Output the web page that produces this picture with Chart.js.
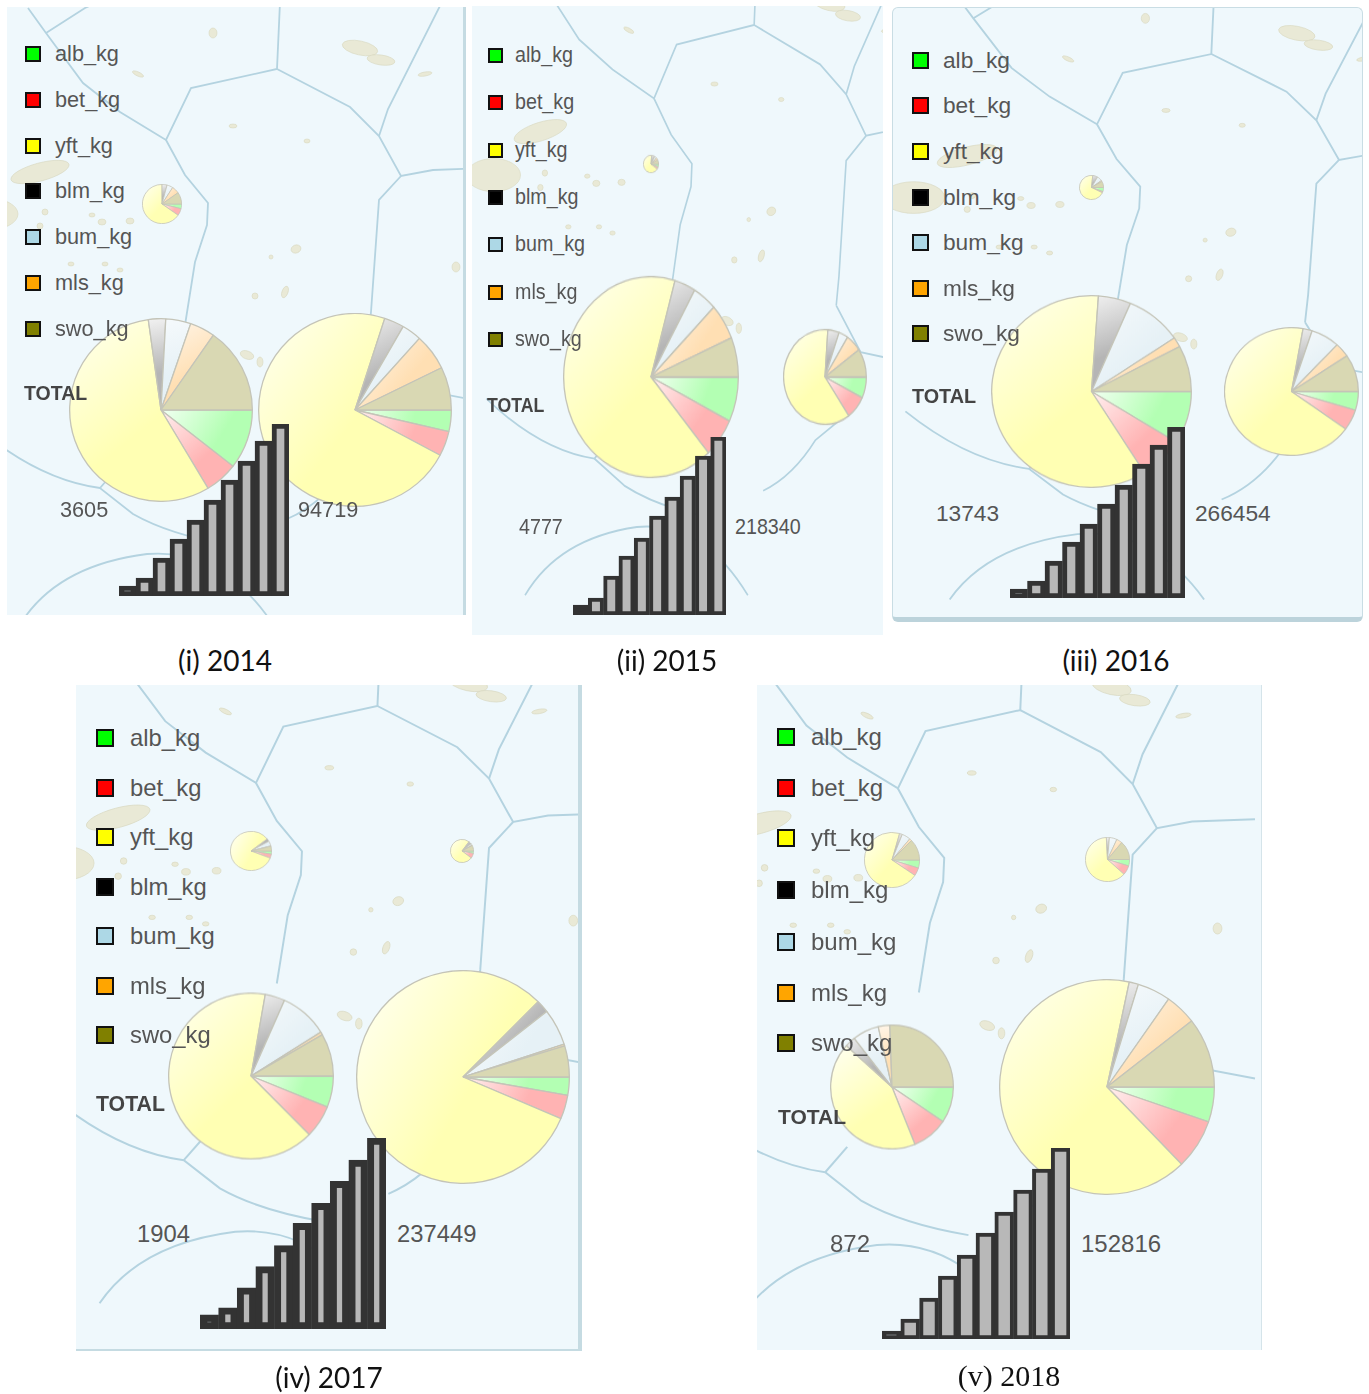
<!DOCTYPE html>
<html>
<head>
<meta charset="utf-8">
<title>Catch by species 2014-2018</title>
<script src="https://cdn.jsdelivr.net/npm/chart.js@4"></script>
<style>
  html, body { margin: 0; padding: 0; background: #fff; }
  #page { position: relative; width: 1369px; height: 1394px; overflow: hidden; }
  .panel { position: absolute; background: #eff8fc; overflow: hidden; box-sizing: border-box; }
  svg.map { position: absolute; left: 0; top: 0; width: 1369px; height: 1394px; }
  canvas { position: absolute; }
  .txt { position: absolute; white-space: nowrap; color: #555; font-family: "Liberation Sans", Arial, sans-serif; line-height: 1; }
  .swatch { position: absolute; box-sizing: border-box; border: 2px solid #111; }
  .cap { position: absolute; white-space: nowrap; color: #111; line-height: 1; transform: translate(-50%, -50%); }
</style>
</head>
<body>
<div id="page"></div>
<script>
// 图例
const species = ['alb_kg', 'bet_kg', 'yft_kg', 'blm_kg', 'bum_kg', 'mls_kg', 'swo_kg'];
const swatchColors = ['#00ff00', '#ff0000', '#ffff00', '#000000', '#add8e6', '#ffa500', '#808000'];
const sliceColors = ['#b3ffb3', '#ffb3b3', '#ffffb3', '#b5b5b5', '#e6f1f6', '#ffdfb3', '#d9d8b3'];
const sliceLights = ['#f2fff2', '#fff0f0', '#ffffee', '#f2f2f2', '#f6fafc', '#fff6ea', '#d9d8b3'];
const stepLabels = ['1', '2', '3', '4', '5', '6', '7', '8', '9', '10'];

// 各年份的饼图份额
const pie2014a = [14, 21, 235, 15, 18, 22, 35];
const pie2014b = [38, 21, 203, 11, 16, 16, 55];
const pie2014c = [13, 15, 260, 12, 12, 22, 26];
const pie2015a = [20, 15, 240, 25, 15, 15, 30];
const pie2015b = [26, 23, 237, 14, 16, 21, 23];
const pie2015c = [26, 29, 219, 16, 13, 22, 35];
const pie2016a = [20, 6, 250, 24, 25, 5, 30];
const pie2016b = [32, 26, 216, 19, 33, 6, 28];
const pie2016c = [17, 19, 244, 8, 25, 13, 34];
const pie2017a = [9, 12, 301, 8, 15, 1, 14];
const pie2017b = [12, 25, 270, 15, 8, 2, 28];
const pie2017c = [22, 23, 235, 14, 34, 2, 30];
const pie2017d = [10, 13, 292, 7, 20, 1, 17];
const pie2018a = [17, 17, 252, 6, 18, 5, 45];
const pie2018b = [17, 25, 225, 8, 20, 15, 50];
const pie2018c = [34, 34, 154, 10, 25, 11, 92];
const pie2018d = [19, 27, 236, 5, 18, 17, 38];

// 阶梯色标的高度
const steps2014 = [10, 18, 38, 57, 76, 96, 116, 135, 155, 172];
const steps2015 = [10, 17, 39, 59, 77, 99, 118, 139, 159, 178];
const steps2016 = [9, 17, 37, 56, 74, 94, 113, 134, 153, 171];
const steps2017 = [14, 21, 41, 62, 83, 105, 125, 147, 168, 190];
const steps2018 = [8, 20, 41, 63, 84, 106, 127, 149, 170, 191];

// 版面布局
const panels = [
  {
    box: [7, 7, 459, 608], border: 'border-right:3px solid #c5dbe2', map: [1, 1, 0, 0],
    pies: [[pie2014a, 162, 204, 19, 19], [pie2014b, 161, 410, 91, 91], [pie2014c, 355, 410, 96, 96]],
    steps: steps2014, stepBox: [119, 424, 170, 172], stepBorder: 5,
    swatchX: 25, swatchSize: 16, labelX: 55, font: 21.7, totalFont: 19.5, scaleY: 1,
    rows: [54, 100, 146, 191, 237, 283, 329], totalX: 24, totalY: 394,
    lo: '3605', loX: 60, hi: '94719', hiX: 298, numY: 510,
    caption: '(i) 2014', capX: 225, capY: 660, capFont: '28px Lato, sans-serif'
  },
  {
    box: [472, 6, 411, 629], border: '', map: [0.902, 1.035, 504.3, -46.4],
    pies: [[pie2015a, 651, 164, 7, 8], [pie2015b, 651, 377, 87, 100], [pie2015c, 825, 377, 41, 47]],
    steps: steps2015, stepBox: [573, 437, 153, 178], stepBorder: 4,
    swatchX: 488, swatchSize: 15, labelX: 515, font: 19.7, totalFont: 17.7, scaleY: 1.12,
    rows: [55, 102, 150, 197, 244, 292, 339], totalX: 487, totalY: 406,
    lo: '4777', loX: 519, hi: '218340', hiX: 735, numY: 527,
    caption: '(ii) 2015', capX: 667, capY: 660, capFont: '28px Lato, sans-serif'
  },
  {
    box: [892, 7, 471, 615], border: 'border:1px solid #c9dde4;border-bottom:5px solid #bcd3db;border-radius:6px', map: [1.03, 0.99, 925, -15.3],
    pies: [[pie2016a, 1091.5, 187, 11.5, 11.5], [pie2016b, 1091.5, 391, 99.5, 95.5], [pie2016c, 1291, 391, 66.5, 63.5]],
    steps: steps2016, stepBox: [1010, 427, 175, 171], stepBorder: 5,
    swatchX: 912, swatchSize: 17, labelX: 943, font: 22.7, totalFont: 19.8, scaleY: 1,
    rows: [60, 105, 151, 197, 242, 288, 333], totalX: 912, totalY: 397,
    lo: '13743', loX: 936, hi: '266454', hiX: 1195, numY: 513,
    caption: '(iii) 2016', capX: 1116, capY: 660, capFont: '28px Lato, sans-serif'
  },
  {
    box: [76, 685, 506, 666], border: 'border-right:4px solid #c5dbe2;border-bottom:2px solid #c5dbe2', map: [1.094, 1.084, 74.4, 631.2],
    pies: [[pie2017a, 251, 851, 20, 19], [pie2017b, 462, 851, 11, 11], [pie2017c, 251, 1076, 82, 82.5], [pie2017d, 463, 1077, 106, 106]],
    steps: steps2017, stepBox: [200, 1138, 186, 191], stepBorder: 7,
    swatchX: 96, swatchSize: 18, labelX: 130, font: 23.8, totalFont: 21.3, scaleY: 1,
    rows: [738, 788, 837, 887, 936, 986, 1035], totalX: 96, totalY: 1105,
    lo: '1904', loX: 137, hi: '237449', hiX: 397, numY: 1234,
    caption: '(iv) 2017', capX: 329, capY: 1377, capFont: '28px Lato, sans-serif'
  },
  {
    box: [757, 685, 505, 665], border: 'border-right:1px solid #d5e4ea', map: [1.102, 1.103, 715, 634],
    pies: [[pie2018a, 892, 860, 27, 27], [pie2018b, 1107, 859, 21.5, 21.5], [pie2018c, 892, 1087, 61, 61.5], [pie2018d, 1107, 1087, 107, 107]],
    steps: steps2018, stepBox: [882, 1148, 188, 191], stepBorder: 4,
    swatchX: 777, swatchSize: 18, labelX: 811, font: 24, totalFont: 21, scaleY: 1,
    rows: [737, 788, 838, 890, 942, 993, 1043], totalX: 778, totalY: 1116,
    lo: '872', loX: 830, hi: '152816', hiX: 1081, numY: 1244,
    caption: '(v) 2018', capX: 1009, capY: 1376, capFont: '30px "Liberation Serif", serif'
  }
];

// 底图：专属经济区边界和岛屿
const borderPaths = [
  'M28 8 L46 33 L83 83 L120 112 L166 140 L191 88 L277 69 L281 -20',
  'M46 33 L85 8 L120 -8',
  'M277 69 L350 107 L379 136 L401 176 L433 170 L490 168',
  'M379 136 L388 109 L445 -4',
  'M401 176 L379 200 L371 312 L368 340',
  'M166 140 L185 175 L208 203 L207 225 L195 262 L185 325',
  'M-20 430 Q40 480 100 488 L133 514 Q170 535 230 545',
  'M100 488 L120 465',
  'M287 519 Q320 505 345 470 L370 452',
  'M368 340 L395 385 L490 403',
  'M23 620 Q60 565 147 554 Q220 548 270 620'
];
const islands = [
  [213, 33, 4, 5, 0], [360, 48, 18, 7, 12], [381, 60, 14, 5, 8], [425, 74, 7, 2, -10], [138, 74, 6, 2, 25],
  [233, 126, 4, 2, 0], [307, 141, 3, 2, 0], [296, 249, 5, 4, -20], [271, 257, 2, 2, 0], [255, 296, 3, 3, 0],
  [285, 292, 3, 6, 20], [456, 267, 4, 5, 0], [247, 355, 7, 4, 20], [260, 362, 3, 5, 0],
  [40, 172, 30, 9, -15], [-12, 214, 30, 16, 0], [45, 212, 3, 3, 0], [92, 215, 3, 2, 0], [102, 222, 4, 3, 0],
  [130, 221, 4, 3, 0], [71, 264, 3, 2, 0], [105, 264, 3, 2, 0], [120, 270, 3, 2, 0], [40, 226, 3, 3, 0]
];

const page = document.getElementById('page');

function addText(text, left, top, size, bold, scaleY) {
  const el = document.createElement('div');
  el.className = 'txt';
  el.textContent = text;
  el.style.left = left + 'px';
  el.style.top = top + 'px';
  el.style.fontSize = size + 'px';
  el.style.transform = `translateY(-50%) scaleY(${scaleY})`;
  if (bold) {
    el.style.fontWeight = 'bold';
    el.style.color = '#444';
  }
  page.appendChild(el);
}

function addMap(p) {
  const [x, y, w, h] = p.box;
  const [sx, sy, tx, ty] = p.map;
  const div = document.createElement('div');
  div.className = 'panel';
  div.style.cssText = `left:${x}px;top:${y}px;width:${w}px;height:${h}px;${p.border}`;
  const lines = borderPaths.map(d => `<path d="${d}" fill="none" stroke="#b4d3e0" stroke-width="1.8"/>`).join('');
  const dots = islands.map(i =>
    `<ellipse cx="${i[0]}" cy="${i[1]}" rx="${i[2]}" ry="${i[3]}" transform="rotate(${i[4]} ${i[0]} ${i[1]})" fill="#e9e9d6" stroke="#d8d8c0" stroke-width="0.6"/>`).join('');
  // 边框占位会让内部坐标偏移，这里直接用整页坐标再减去面板原点
  div.innerHTML = `<svg class="map" style="left:${-x}px;top:${-y}px"><g transform="translate(${tx} ${ty}) scale(${sx} ${sy})">${lines}${dots}</g></svg>`;
  page.appendChild(div);
}

// 每块扇形按自身范围取一个左上到右下的渐变
function sliceFill(ctx) {
  const area = ctx.chart.chartArea;
  const values = ctx.dataset.data;
  const i = ctx.dataIndex;
  if (!area) return sliceColors[i];
  const total = values.reduce((a, b) => a + b, 0);
  let start = 0;
  for (let k = 0; k < i; k++) start += values[k];
  const a0 = start / total * Math.PI * 2;
  const a1 = (start + values[i]) / total * Math.PI * 2;
  const cx = (area.left + area.right) / 2;
  const cy = (area.top + area.bottom) / 2;
  const r = Math.min(area.right - area.left, area.bottom - area.top) / 2;
  const xs = [cx], ys = [cy];
  [a0, (a0 + a1) / 2, a1].forEach(a => {
    xs.push(cx + r * Math.cos(a));
    ys.push(cy + r * Math.sin(a));
  });
  const g = ctx.chart.ctx.createLinearGradient(Math.min(...xs), Math.min(...ys), Math.max(...xs), Math.max(...ys));
  g.addColorStop(0, sliceLights[i]);
  g.addColorStop(0.6, sliceColors[i]);
  return g;
}

function addPie(values, cx, cy, rx, ry) {
  const side = Math.ceil(rx * 2 + 2);
  const c = document.createElement('canvas');
  c.width = side;
  c.height = side;
  c.style.left = (cx - side / 2) + 'px';
  c.style.top = (cy - side / 2) + 'px';
  c.style.transform = `scaleY(${ry / rx})`;
  page.appendChild(c);
  new Chart(c, {
    type: 'pie',
    data: {
      labels: species,
      datasets: [{
        data: values,
        backgroundColor: sliceFill,
        borderColor: '#c4c4b8',
        borderWidth: rx < 30 ? 0.8 : 1.3
      }]
    },
    options: {
      responsive: false,
      animation: false,
      rotation: 90,
      layout: { padding: 0 },
      plugins: { legend: { display: false }, tooltip: { enabled: false } }
    }
  });
}

function addSteps(values, box, borderWidth) {
  const c = document.createElement('canvas');
  c.width = box[2];
  c.height = box[3];
  c.style.left = box[0] + 'px';
  c.style.top = box[1] + 'px';
  page.appendChild(c);
  new Chart(c, {
    type: 'bar',
    data: {
      labels: stepLabels,
      datasets: [{
        data: values,
        // 第一级太矮，只剩边框色
        backgroundColor: ctx => ctx.dataIndex === 0 ? '#333333' : '#b8b8b8',
        borderColor: '#333333',
        borderWidth: borderWidth,
        borderSkipped: false,
        barPercentage: 1,
        categoryPercentage: 1
      }]
    },
    options: {
      responsive: false,
      animation: false,
      layout: { padding: 0 },
      plugins: { legend: { display: false }, tooltip: { enabled: false } },
      scales: {
        x: { display: false },
        y: { display: false, min: 0, max: Math.max(...values) }
      }
    }
  });
}

function addLegend(p) {
  species.forEach((name, i) => {
    const s = document.createElement('div');
    s.className = 'swatch';
    s.style.cssText = `left:${p.swatchX}px;top:${p.rows[i] - p.swatchSize / 2}px;width:${p.swatchSize}px;height:${p.swatchSize}px;background:${swatchColors[i]}`;
    page.appendChild(s);
    addText(name, p.labelX, p.rows[i], p.font, false, p.scaleY);
  });
  addText('TOTAL', p.totalX, p.totalY, p.totalFont, true, p.scaleY);
  addText(p.lo, p.loX, p.numY, p.font, false, p.scaleY);
  addText(p.hi, p.hiX, p.numY, p.font, false, p.scaleY);

  const cap = document.createElement('div');
  cap.className = 'cap';
  cap.textContent = p.caption;
  cap.style.left = p.capX + 'px';
  cap.style.top = p.capY + 'px';
  cap.style.font = p.capFont;
  page.appendChild(cap);
}

panels.forEach(p => {
  addMap(p);
  p.pies.forEach(item => addPie(item[0], item[1], item[2], item[3], item[4]));
  addSteps(p.steps, p.stepBox, p.stepBorder);
  addLegend(p);
});
</script>
</body>
</html>
